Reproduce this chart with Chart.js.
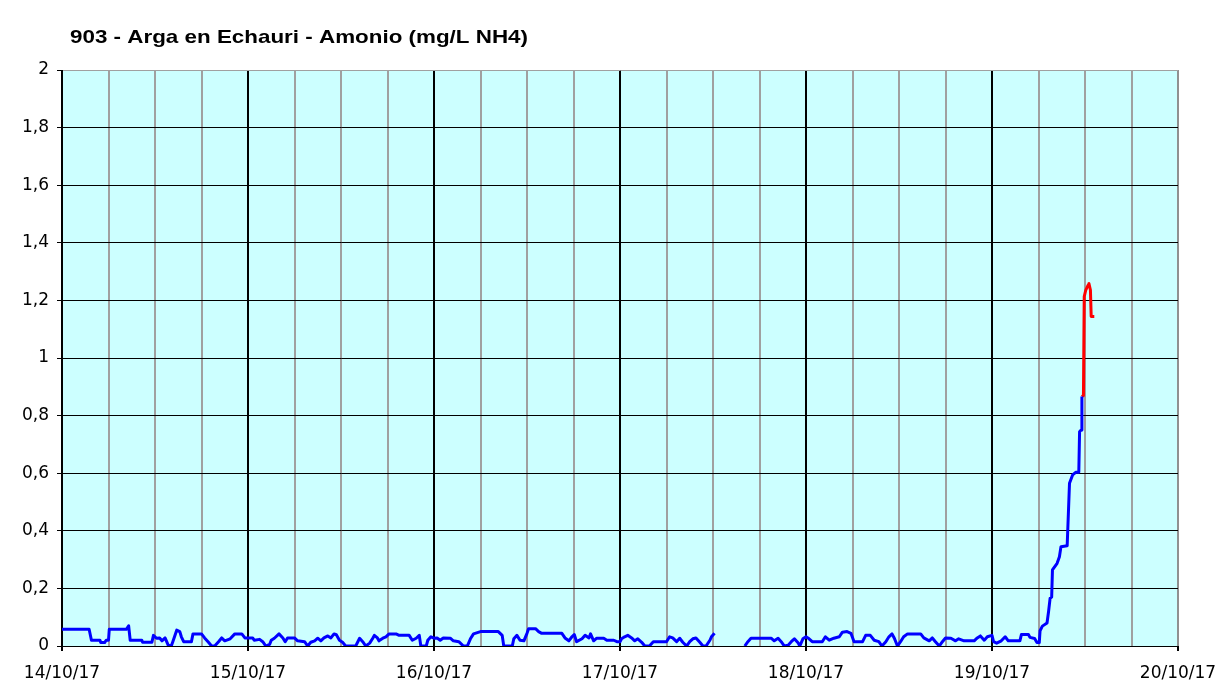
<!DOCTYPE html>
<html>
<head>
<meta charset="utf-8">
<script src="https://cdn.jsdelivr.net/npm/chart.js@4.4.1/dist/chart.umd.min.js"></script>
<style>
html,body{margin:0;padding:0;background:#fff;}
canvas{display:block;}
</style>
</head>
<body>
<canvas id="c" width="1222" height="682"></canvas>
<script>
const chartTitle = '903 - Arga en Echauri - Amonio (mg/L NH4)';
const dayLabels = ['14/10/17','15/10/17','16/10/17','17/10/17','18/10/17','19/10/17','20/10/17'];

// hours since 14/10/17 00:00 (null = gap in data)
const blueHours = [
0,3.5,3.8,4.9,5.0,5.5,5.7,6.0,6.1,8.3,8.6,8.8,10.3,10.4,11.6,11.8,12.2,12.6,12.9,13.3,13.7,14.1,14.3,14.8,15.2,15.4,15.7,16.7,16.9,18.0,18.4,18.9,19.3,19.7,20.2,20.6,21.0,21.7,22.3,23.2,23.6,24,
24.6,24.8,25.5,25.9,26.3,26.8,27.0,27.4,28.0,28.5,28.8,29.1,30.0,30.4,31.3,31.7,32.1,32.6,33.0,33.4,33.8,34.3,34.7,35.1,35.4,35.8,36.2,36.6,37.9,38.4,38.8,39.2,39.7,40.1,40.3,40.7,40.9,41.4,41.8,42.2,43.1,43.5,44.8,45.2,45.7,46.1,46.3,47.0,47.2,47.6,48.0,
48.4,48.8,49.2,50.1,50.5,51.2,51.8,52.3,52.7,53.1,54.0,56.3,56.8,57.0,58.1,58.3,58.7,59.1,59.6,60.0,60.2,61.1,61.5,61.9,64.5,64.9,65.4,65.8,66.1,66.4,67.1,67.5,68.0,68.2,68.6,69.0,69.9,70.3,71.2,71.6,72,
72.2,72.6,73.0,73.5,73.9,74.3,74.8,75.2,75.8,76.3,78.0,78.4,78.8,79.3,79.7,80.1,80.6,81.0,81.4,81.8,82.3,82.7,83.1,83.6,83.8,84.2,86,
88.1,88.5,88.9,91.5,91.9,92.4,92.8,93.2,93.7,94.1,94.5,95.0,95.2,95.6,96,
96.4,96.8,98.1,98.5,99.0,99.6,100.3,100.7,101.3,101.8,102.2,103.3,103.7,104.3,104.8,105.4,105.8,106.3,106.7,107.1,107.4,107.8,108.2,108.6,109.1,110.8,111.2,111.9,112.3,112.7,113.2,113.6,114.0,114.7,115.3,115.7,116.4,117.7,118.1,118.5,119.0,119.4,120,
120.2,120.6,121.2,121.7,122.1,123.6,123.8,124.7,124.9,125.5,125.8,126.1,126.2,126.5,127.1,127.3,127.5,127.7,127.8,128.4,128.7,128.9,129.7,130.0,130.4,130.8,131.2,131.3,131.5,131.6
];
const blueValues = [
0.058,0.058,0.02,0.02,0.012,0.012,0.02,0.02,0.058,0.058,0.07,0.02,0.02,0.013,0.013,0.037,0.027,0.028,0.018,0.028,0.003,0,0.015,0.055,0.05,0.032,0.015,0.015,0.042,0.042,0.028,0.013,0,0,0.015,0.028,0.018,0.025,0.042,0.042,0.028,0.028,
0.028,0.02,0.023,0.015,0,0.006,0.02,0.027,0.042,0.028,0.015,0.028,0.028,0.018,0.015,0,0.013,0.018,0.027,0.018,0.028,0.035,0.028,0.042,0.039,0.02,0.013,0,0,0.027,0.015,0,0.01,0.027,0.037,0.028,0.018,0.027,0.032,0.042,0.042,0.037,0.037,0.02,0.027,0.037,0,0,0.02,0.032,0.027,
0.028,0.02,0.028,0.027,0.018,0.015,0,0,0.025,0.042,0.05,0.05,0.037,0,0,0.025,0.037,0.02,0.018,0.044,0.06,0.06,0.05,0.044,0.044,0.028,0.018,0.032,0.04,0.015,0.025,0.037,0.028,0.042,0.018,0.027,0.027,0.02,0.02,0.015,0.015,
0.025,0.032,0.037,0.028,0.018,0.025,0.013,0,0,0.015,0.015,0.032,0.028,0.015,0.027,0.013,0,0.015,0.025,0.028,0.013,0,0,0.02,0.032,0.044,null,
0,0.015,0.027,0.027,0.018,0.027,0.015,0,0.003,0.015,0.025,0.01,0,0.025,0.032,
0.025,0.015,0.015,0.032,0.02,0.027,0.032,0.048,0.05,0.044,0.015,0.015,0.037,0.037,0.02,0.015,0,0.015,0.032,0.042,0.027,0,0.015,0.032,0.042,0.042,0.028,0.018,0.028,0.015,0,0.015,0.028,0.027,0.018,0.025,0.018,0.018,0.028,0.035,0.02,0.032,0.037,
0.015,0.01,0.018,0.032,0.018,0.018,0.04,0.04,0.03,0.026,0.012,0.012,0.053,0.069,0.08,0.12,0.166,0.17,0.264,0.287,0.31,0.345,0.348,0.565,0.594,0.603,0.603,0.744,0.75,0.866
];
const redHours = [131.6,131.8,131.9,132.1,132.4,132.5,132.7,132.8,133.2];
const redValues = [0.866,0.87,1.213,1.236,1.253,1.259,1.236,1.144,1.144];

const toPoints = (xs, ys) => xs.map((x, i) => ({x: x, y: ys[i]}));

const bgPlugin = {
  id: 'plotBg',
  beforeDraw(chart) {
    const a = chart.chartArea, ctx = chart.ctx;
    ctx.save();
    ctx.fillStyle = '#CCFFFF';
    ctx.fillRect(a.left, a.top, a.right - a.left, a.bottom - a.top);
    ctx.restore();
  },
  afterDraw(chart) {
    const ctx = chart.ctx;
    ctx.save();
    ctx.font = 'bold 19px "Liberation Sans", Arial, sans-serif';
    ctx.fillStyle = '#000';
    ctx.textBaseline = 'alphabetic';
    ctx.translate(70, 43);
    const w = ctx.measureText(chartTitle).width;
    ctx.scale(458 / w, 1);
    ctx.fillText(chartTitle, 0, 0);
    ctx.restore();
  }
};

new Chart(document.getElementById('c'), {
  type: 'line',
  data: {
    datasets: [
      {data: toPoints(blueHours, blueValues), borderColor: '#0000FF', borderWidth: 3, borderJoinStyle: 'round', pointRadius: 0, tension: 0, spanGaps: false, fill: false},
      {data: toPoints(redHours, redValues), borderColor: '#FF0000', borderWidth: 3, borderJoinStyle: 'round', pointRadius: 0, tension: 0, fill: false}
    ]
  },
  options: {
    responsive: false,
    animation: false,
    devicePixelRatio: 1,
    layout: {padding: {top: 70, right: 44, left: 0, bottom: 0}},
    plugins: {legend: {display: false}, tooltip: {enabled: false}, title: {display: false}},
    scales: {
      x: {
        type: 'linear',
        min: 0, max: 144,
        afterFit(s) { s.height = 36; s.paddingLeft = 0; s.paddingRight = 0; },
        border: {display: true, color: '#000', width: 1},
        grid: {
          drawOnChartArea: true,
          color: c => (c.tick && c.tick.value === 144) ? '#909090' : ((c.tick && c.tick.value % 24 === 0) ? '#000' : '#A0A0A0'),
          tickColor: c => (c.tick && c.tick.value % 24 === 0) ? '#000' : 'rgba(0,0,0,0)',
          tickLength: 5,
          lineWidth: 2
        },
        ticks: {
          stepSize: 6,
          autoSkip: false,
          maxRotation: 0,
          padding: 12,
          color: '#000',
          font: {family: '"DejaVu Sans", Verdana, sans-serif', size: 17},
          callback: v => (v % 24 === 0) ? dayLabels[v / 24] : ''
        }
      },
      y: {
        min: 0, max: 2,
        afterFit(s) { s.width = 62; s.paddingTop = 0; s.paddingBottom = 0; },
        border: {display: true, color: '#000', width: 1},
        grid: {
          color: c => (c.tick && Math.abs(c.tick.value - 2) < 1e-6) ? '#A0A0A0' : '#000',
          tickColor: '#000',
          tickLength: 5,
          lineWidth: 1
        },
        ticks: {
          stepSize: 0.2,
          padding: 8,
          color: '#000',
          font: {family: '"DejaVu Sans", Verdana, sans-serif', size: 17},
          callback: v => String(Math.round(v * 10) / 10).replace('.', ',')
        }
      }
    }
  },
  plugins: [bgPlugin]
});
</script>
</body>
</html>
